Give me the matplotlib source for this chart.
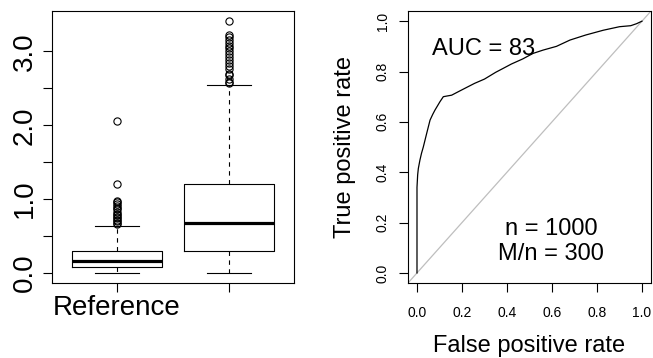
import matplotlib
matplotlib.use('Agg')
import matplotlib.pyplot as plt

plt.rcParams['font.family'] = ['Liberation Sans', 'DejaVu Sans']

# boxplot summary values
group_labels = ['Reference', '']
q1 = [0.08, 0.30]
medians = [0.16, 0.68]
q3 = [0.30, 1.20]
whisker_lo = [0.0, 0.0]
whisker_hi = [0.63, 2.54]
fliers_ref = [0.66, 0.68, 0.70, 0.72, 0.74, 0.76, 0.78, 0.80, 0.83, 0.86,
              0.88, 0.91, 0.94, 0.96, 0.98, 1.21, 2.06]
fliers_other = [2.57, 2.59, 2.62, 2.68, 2.70, 2.76, 2.80, 2.84, 2.88, 2.92,
                2.96, 3.00, 3.04, 3.08, 3.12, 3.16, 3.20, 3.22, 3.41]

# ROC curve points
roc_fpr = [0.0, 0.0, 0.003, 0.006, 0.013, 0.02, 0.028, 0.043, 0.058, 0.07,
           0.08, 0.092, 0.102, 0.117, 0.135, 0.154, 0.184, 0.221, 0.256, 0.30,
           0.35, 0.382, 0.42, 0.47, 0.516, 0.56, 0.62, 0.68, 0.75, 0.828,
           0.90, 0.95, 0.976, 1.0]
roc_tpr = [0.0, 0.34, 0.39, 0.415, 0.448, 0.475, 0.50, 0.554, 0.607, 0.63,
           0.647, 0.665, 0.68, 0.70, 0.703, 0.706, 0.72, 0.737, 0.753, 0.77,
           0.797, 0.812, 0.83, 0.85, 0.872, 0.885, 0.90, 0.925, 0.945, 0.964,
           0.978, 0.982, 0.99, 1.0]
auc_text = 'AUC = 83'
n_text = 'n = 1000'
mn_text = 'M/n = 300'

fig = plt.figure(figsize=(6.53, 3.58), dpi=100)
ax1 = fig.add_axes([0.0796, 0.2095, 0.3704, 0.7595])
ax2 = fig.add_axes([0.6248, 0.2095, 0.3721, 0.7595])

# --- left: boxplots
stats = []
fliers = [fliers_ref, fliers_other]
for i in range(2):
    stats.append(dict(med=medians[i], q1=q1[i], q3=q3[i],
                      whislo=whisker_lo[i], whishi=whisker_hi[i],
                      fliers=fliers[i]))
ax1.bxp(stats, positions=[1, 2], widths=0.8, capwidths=0.4,
        boxprops=dict(color='black', linewidth=0.8),
        whiskerprops=dict(color='black', linewidth=0.8, linestyle=(0, (4, 4))),
        capprops=dict(color='black', linewidth=0.8),
        medianprops=dict(color='black', linewidth=2.3, solid_capstyle='butt'),
        flierprops=dict(marker='o', markerfacecolor='none',
                        markeredgecolor='black', markersize=5.2,
                        markeredgewidth=0.8))
ax1.set_xlim(0.42, 2.58)
ax1.set_ylim(-0.136, 3.546)
ax1.set_xticks([1, 2])
ax1.set_xticklabels(group_labels, fontsize=20)
yt = [0, 0.5, 1, 1.5, 2, 2.5, 3]
ax1.set_yticks(yt)
ax1.set_yticklabels(['0.0', '', '1.0', '', '2.0', '', '3.0'],
                    fontsize=20, rotation=90, va='center')
ax1.tick_params(axis='x', length=6.5, width=0.8, pad=2)
ax1.tick_params(axis='y', length=6.5, width=0.8, pad=4)

# --- right: ROC curve
ax2.axline((0, 0), (1, 1), color='#BEBEBE', linewidth=0.9)
ax2.plot(roc_fpr, roc_tpr, color='black', linewidth=0.9)
ax2.set_xlim(-0.04, 1.04)
ax2.set_ylim(-0.04, 1.04)
ticks = [0, 0.2, 0.4, 0.6, 0.8, 1.0]
tick_labels = ['0.0', '0.2', '0.4', '0.6', '0.8', '1.0']
ax2.set_xticks(ticks)
ax2.set_xticklabels(tick_labels, fontsize=10)
ax2.set_yticks(ticks)
ax2.set_yticklabels(tick_labels, fontsize=10, rotation=90, va='center')
ax2.tick_params(axis='x', length=6.5, width=0.8, pad=10)
ax2.tick_params(axis='y', length=6.5, width=0.8, pad=6.5)
ax2.set_xlabel('False positive rate', fontsize=17, va='baseline')
ax2.xaxis.set_label_coords(0.5, -0.252)
ax2.set_ylabel('True positive rate', fontsize=17, va='center')
ax2.yaxis.set_label_coords(-0.259, 0.5)
ax2.text(0.295, 0.865, auc_text, fontsize=17, ha='center', va='baseline')
ax2.text(0.595, 0.151, n_text, fontsize=17, ha='center', va='baseline')
ax2.text(0.595, 0.052, mn_text, fontsize=17, ha='center', va='baseline')

for ax in (ax1, ax2):
    for s in ax.spines.values():
        s.set_linewidth(0.8)

fig.savefig('out.png', dpi=100)
